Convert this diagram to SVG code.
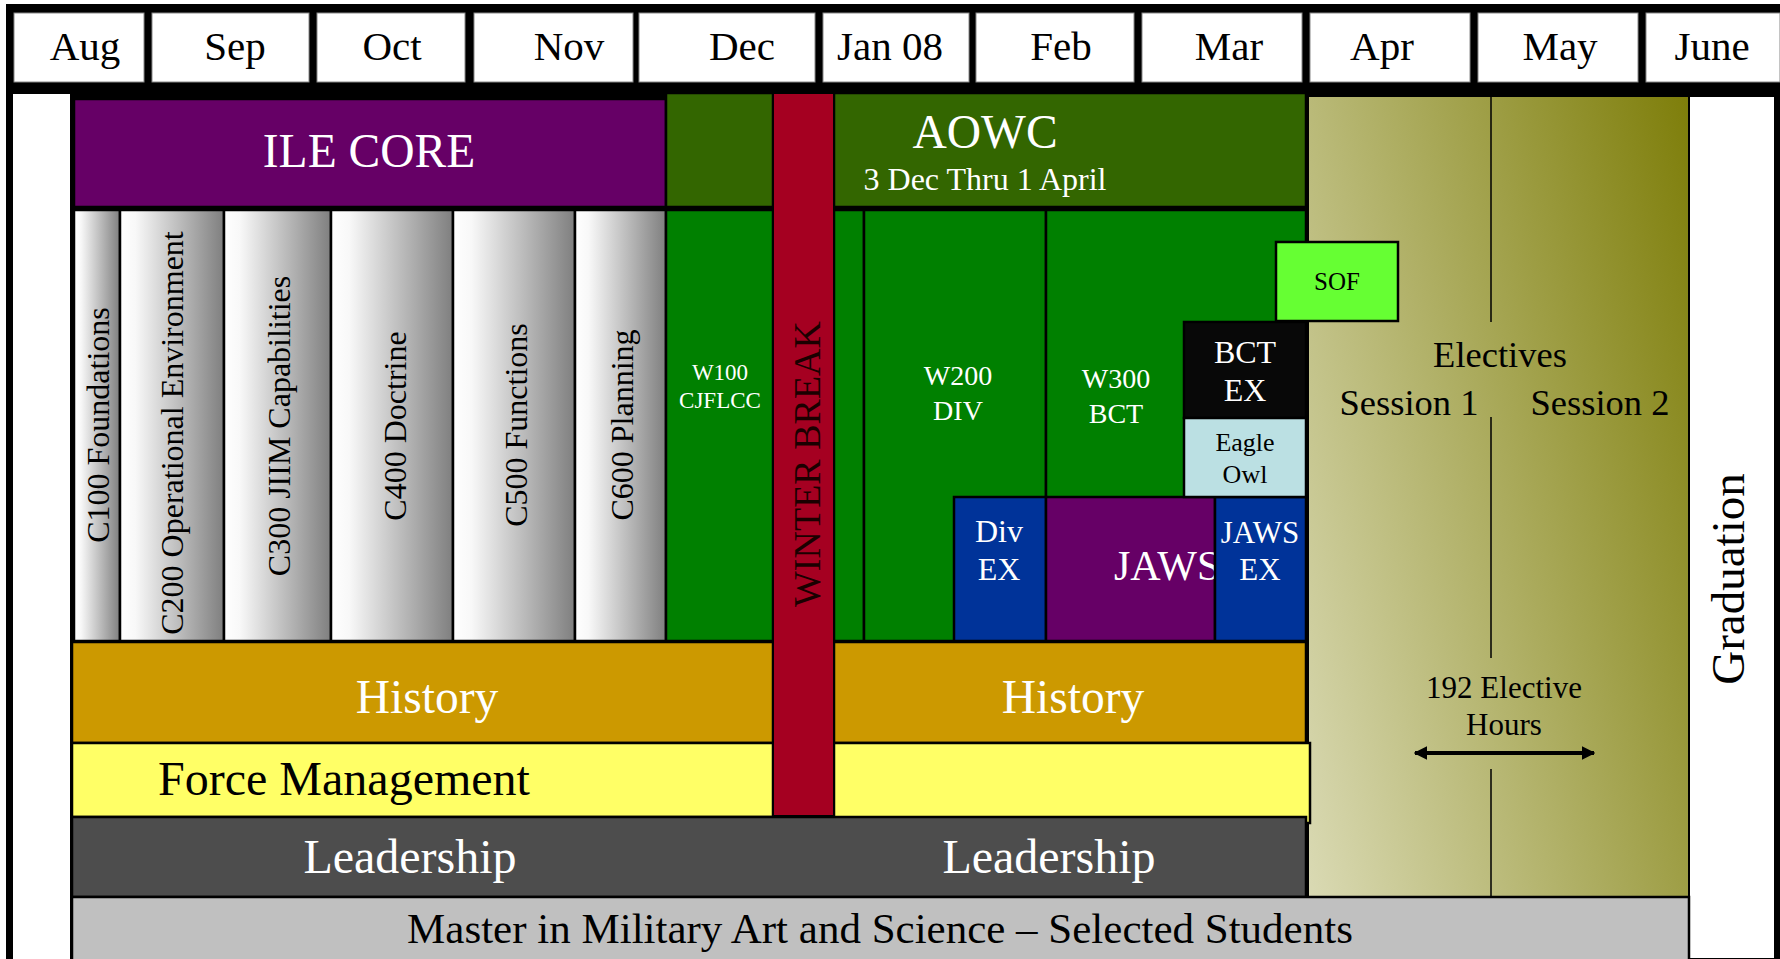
<svg xmlns="http://www.w3.org/2000/svg" width="1780" height="959" viewBox="0 0 1780 959">
<defs>
<linearGradient id="colGrad" x1="0" y1="0" x2="1" y2="0">
<stop offset="0" stop-color="#FFFFFF"/>
<stop offset="0.15" stop-color="#F8F8F8"/>
<stop offset="1" stop-color="#7F7F7F"/>
</linearGradient>
<linearGradient id="elecGrad" gradientUnits="userSpaceOnUse" x1="1308" y1="898" x2="1858" y2="757">
<stop offset="0" stop-color="#DADAB4"/>
<stop offset="1" stop-color="#7E7E0A"/>
</linearGradient>
<marker id="ah" viewBox="0 0 10 10" refX="9" refY="5" markerWidth="3.4" markerHeight="3.4" orient="auto-start-reverse">
<path d="M0,0 L10,5 L0,10 z" fill="#000"/>
</marker>
</defs>
<style>
text{font-family:"Liberation Serif","Times New Roman",serif;}
.box{stroke:#000;stroke-width:2.5;}
.hdr{fill:#FFFFFF;stroke:#888;stroke-width:1;}
.ht{font-size:41px;fill:#000;text-anchor:middle;}
.col{fill:url(#colGrad);stroke:#000;stroke-width:2.5;}
.ct{font-size:32px;fill:#000;text-anchor:middle;}
.w{fill:#FFFFFF;text-anchor:middle;}
.b{fill:#000;text-anchor:middle;}
.big{font-size:47.5px;}
</style>
<rect x="0" y="0" width="1780" height="959" fill="#FFFFFF"/>
<rect x="6" y="4" width="1774" height="955" fill="#000"/>
<g id="header">
<rect class="hdr" x="14" y="13" width="130" height="69"/>
<rect class="hdr" x="152" y="13" width="157" height="69"/>
<rect class="hdr" x="317" y="13" width="148" height="69"/>
<rect class="hdr" x="474" y="13" width="159" height="69"/>
<rect class="hdr" x="639" y="13" width="176" height="69"/>
<rect class="hdr" x="823" y="13" width="146" height="69"/>
<rect class="hdr" x="976" y="13" width="158" height="69"/>
<rect class="hdr" x="1142" y="13" width="160" height="69"/>
<rect class="hdr" x="1310" y="13" width="160" height="69"/>
<rect class="hdr" x="1478" y="13" width="160" height="69"/>
<rect class="hdr" x="1646" y="13" width="134" height="69"/>
<text class="ht" x="85" y="60">Aug</text>
<text class="ht" x="235" y="60">Sep</text>
<text class="ht" x="392" y="60">Oct</text>
<text class="ht" x="569" y="60">Nov</text>
<text class="ht" x="742" y="60">Dec</text>
<text class="ht" x="890" y="60">Jan 08</text>
<text class="ht" x="1061" y="60">Feb</text>
<text class="ht" x="1229" y="60">Mar</text>
<text class="ht" x="1382" y="60">Apr</text>
<text class="ht" x="1560" y="60">May</text>
<text class="ht" x="1712" y="60">June</text>
</g>
<rect x="13" y="94" width="57" height="865" fill="#FFFFFF"/>
<g id="graduation">
<rect x="1689" y="96" width="86" height="863" fill="#FFFFFF" stroke="#000" stroke-width="2"/>
<text class="b" font-size="47" transform="translate(1744,579) rotate(-90)">Graduation</text>
</g>
<g id="ile-core">
<rect class="box" x="74" y="99" width="592" height="108" fill="#660066"/>
<text class="w big" x="369" y="167">ILE CORE</text>
</g>
<rect class="box" x="666" y="93" width="107" height="114" fill="#336600"/>
<g id="aowc">
<rect class="box" x="834" y="93" width="472" height="114" fill="#336600"/>
<text class="w big" x="985" y="148">AOWC</text>
<text class="w" font-size="32" x="985" y="190">3 Dec Thru 1 April</text>
</g>
<g id="c100"><rect class="col" x="74" y="210" width="46" height="431"/><text class="ct" transform="translate(109,425) rotate(-90)">C100 Foundations</text></g>
<g id="c200"><rect class="col" x="120" y="210" width="104" height="431"/><text class="ct" transform="translate(183,433) rotate(-90)">C200 Operational Environment</text></g>
<g id="c300"><rect class="col" x="224" y="210" width="107" height="431"/><text class="ct" transform="translate(290,426) rotate(-90)">C300 JIIM Capabilities</text></g>
<g id="c400"><rect class="col" x="331" y="210" width="122" height="431"/><text class="ct" transform="translate(406,426) rotate(-90)">C400 Doctrine</text></g>
<g id="c500"><rect class="col" x="453" y="210" width="122" height="431"/><text class="ct" transform="translate(527,425) rotate(-90)">C500 Functions</text></g>
<g id="c600"><rect class="col" x="575" y="210" width="91" height="431"/><text class="ct" transform="translate(633,425) rotate(-90)">C600 Planning</text></g>
<g id="w100">
<rect class="box" x="666" y="210" width="107" height="431" fill="#008000"/>
<text class="w" font-size="23" x="720" y="380">W100</text>
<text class="w" font-size="23" x="720" y="408">CJFLCC</text>
</g>
<rect class="box" x="834" y="210" width="30" height="431" fill="#008000"/>
<g id="w200">
<rect class="box" x="864" y="210" width="182" height="431" fill="#008000"/>
<text class="w" font-size="28" x="958" y="385">W200</text>
<text class="w" font-size="28" x="958" y="420">DIV</text>
</g>
<g id="w300">
<rect class="box" x="1046" y="210" width="260" height="431" fill="#008000"/>
<text class="w" font-size="28" x="1116" y="388">W300</text>
<text class="w" font-size="28" x="1116" y="423">BCT</text>
</g>
<g id="div-ex">
<rect class="box" x="954" y="497" width="92" height="144" fill="#003399"/>
<text class="w" font-size="32" x="999" y="542">Div</text>
<text class="w" font-size="32" x="999" y="580">EX</text>
</g>
<g id="jaws">
<rect class="box" x="1046" y="497" width="169" height="144" fill="#660066"/>
<text fill="#FFFFFF" font-size="42" x="1114" y="580">JAWS</text>
</g>
<g id="jaws-ex">
<rect class="box" x="1215" y="497" width="91" height="144" fill="#003399"/>
<text class="w" font-size="31" x="1260" y="543">JAWS</text>
<text class="w" font-size="31" x="1260" y="580">EX</text>
</g>
<g id="bct-ex">
<rect class="box" x="1184" y="322" width="122" height="96" fill="#080808"/>
<text class="w" font-size="32" x="1245" y="363">BCT</text>
<text class="w" font-size="32" x="1245" y="401">EX</text>
</g>
<g id="eagle-owl">
<rect class="box" x="1184" y="418" width="122" height="79" fill="#BBE0E3"/>
<text class="b" font-size="26" x="1245" y="451">Eagle</text>
<text class="b" font-size="26" x="1245" y="483">Owl</text>
</g>
<g id="electives">
<rect x="1308" y="96" width="381" height="802" fill="url(#elecGrad)" stroke="#000" stroke-width="2"/>
<path d="M1491,96 V322 M1491,417 V658 M1491,769 V898" stroke="#000" stroke-width="1.5" fill="none"/>
<text class="b" font-size="36.5" x="1500" y="367">Electives</text>
<text class="b" font-size="36.5" x="1409" y="415">Session 1</text>
<text class="b" font-size="36.5" x="1600" y="415">Session 2</text>
<text class="b" font-size="31" x="1504" y="698">192 Elective</text>
<text class="b" font-size="31" x="1504" y="735">Hours</text>
</g>
<g id="sof">
<rect class="box" x="1276" y="242" width="122" height="79" fill="#66FF33"/>
<text class="b" font-size="25" x="1337" y="290">SOF</text>
</g>
<g id="history-1">
<rect class="box" x="72" y="642" width="701" height="101" fill="#CC9900"/>
<text class="w big" x="427" y="713">History</text>
</g>
<g id="history-2">
<rect class="box" x="834" y="642" width="472" height="101" fill="#CC9900"/>
<text class="w big" x="1073" y="713">History</text>
</g>
<g id="force-management">
<rect class="box" x="72" y="743" width="701" height="74" fill="#FFFF66"/>
<text class="b" font-size="48" x="344" y="795">Force Management</text>
</g>
<rect class="box" x="834" y="743" width="476" height="80" fill="#FFFF66"/>
<g id="winter-break">
<rect x="773" y="93" width="61" height="723" fill="#A50021" stroke="#000" stroke-width="2"/>
<text fill="#1A0000" text-anchor="middle" font-size="38" transform="translate(820,464) rotate(-90)">WINTER BREAK</text>
</g>
<g id="leadership">
<rect class="box" x="72" y="817" width="1234" height="80" fill="#4D4D4D"/>
<text class="w" font-size="48" x="410" y="873">Leadership</text>
<text class="w" font-size="48" x="1049" y="873">Leadership</text>
</g>
<g id="mmas">
<rect class="box" x="72" y="897" width="1617" height="64" fill="#C0C0C0"/>
<text class="b" font-size="43" x="880" y="943">Master in Military Art and Science – Selected Students</text>
</g>
<g id="connectors">
<line x1="1415" y1="753" x2="1594" y2="753" stroke="#000" stroke-width="4" marker-start="url(#ah)" marker-end="url(#ah)"/>
</g>
</svg>
